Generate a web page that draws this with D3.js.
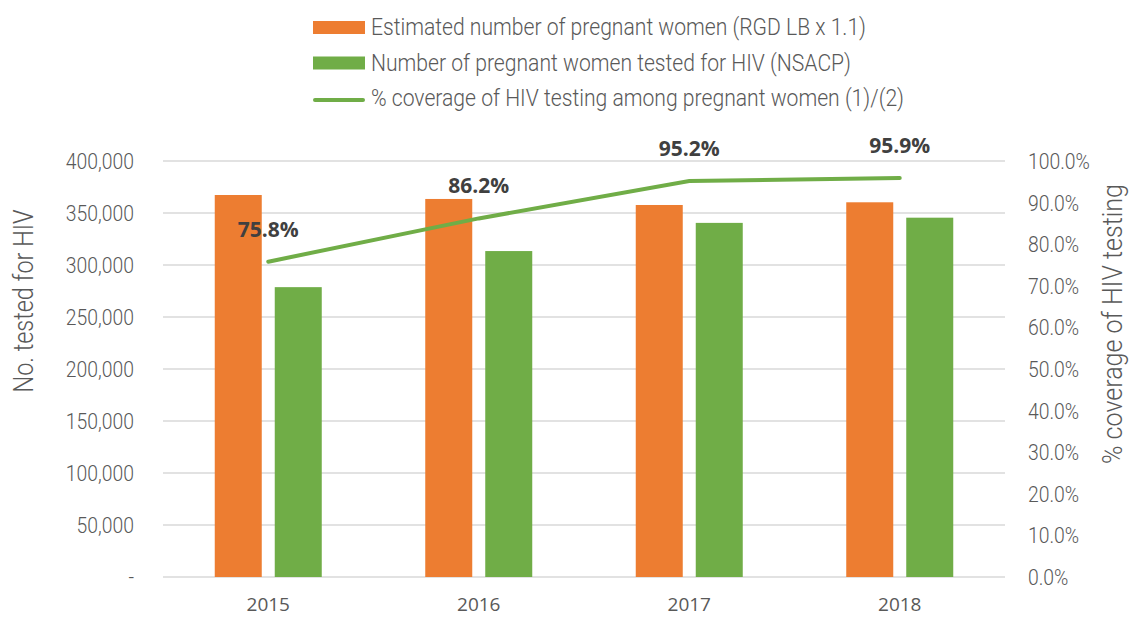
<!DOCTYPE html>
<html>
<head>
<meta charset="utf-8">
<script src="https://cdn.jsdelivr.net/npm/d3@7"></script>
<style>
  body { margin: 0; background: #fff; }
  svg { display: block; }
</style>
</head>
<body>
<svg id="chart" width="1132" height="617"></svg>
<script>
// data
const years = ['2015', '2016', '2017', '2018']
const estimated = [367300, 363500, 357700, 360300]
const tested = [278700, 313400, 340500, 345500]
const coverage = [0.758, 0.862, 0.952, 0.959]
const leftTicks = [0, 50000, 100000, 150000, 200000, 250000, 300000, 350000, 400000]
const rightTicks = [0, 0.1, 0.2, 0.3, 0.4, 0.5, 0.6, 0.7, 0.8, 0.9, 1.0]
const legendLabels = [
  'Estimated number of pregnant women (RGD LB x 1.1)',
  'Number of pregnant women tested for HIV (NSACP)',
  '% coverage of HIV testing among pregnant women (1)/(2)'
]

//Constants
const colorOrange = '#ED7D31'
const colorGreen = '#70AD47'
const colorGrid = '#D9D9D9'
const colorText = '#595959'
const squeeze = 0.88 // fake a condensed face, Roboto Condensed is not installed
const svg = d3.select('#chart')
const plot = { left: 163, right: 1005, top: 161, bottom: 577 }

const x = d3.scaleBand().domain(years).range([plot.left, plot.right])
const yLeft = d3.scaleLinear().domain([0, 400000]).range([plot.bottom, plot.top])
const yRight = d3.scaleLinear().domain([0, 1]).range([plot.bottom, plot.top])

// gridlines
svg.append('g')
  .selectAll('line')
  .data(leftTicks)
  .join('line')
  .attr('x1', plot.left)
  .attr('x2', plot.right)
  .attr('y1', d => yLeft(d))
  .attr('y2', d => yLeft(d))
  .attr('stroke', colorGrid)
  .attr('stroke-width', 1.5)

// left axis labels
const fmt = d3.format(',')
svg.append('g')
  .selectAll('text')
  .data(leftTicks)
  .join('text')
  .attr('transform', d => `translate(134, ${yLeft(d) + 8}) scale(${squeeze}, 1)`)
  .attr('text-anchor', 'end')
  .attr('font-family', 'Roboto')
  .attr('font-weight', 300)
  .attr('font-size', 22)
  .attr('fill', colorText)
  .text(d => d === 0 ? '-' : fmt(d))

// right axis labels
svg.append('g')
  .selectAll('text')
  .data(rightTicks)
  .join('text')
  .attr('transform', d => `translate(1028, ${yRight(d) + 8}) scale(${squeeze}, 1)`)
  .attr('font-family', 'Roboto')
  .attr('font-weight', 300)
  .attr('font-size', 22)
  .attr('fill', colorText)
  .text(d => d3.format('.1%')(d))

// axis titles
svg.append('text')
  .attr('transform', 'translate(33, 301) rotate(-90)')
  .attr('text-anchor', 'middle')
  .attr('font-family', 'Roboto')
  .attr('font-weight', 300)
  .attr('font-size', 28)
  .attr('fill', colorText)
  .attr('textLength', 183)
  .attr('lengthAdjust', 'spacingAndGlyphs')
  .text('No. tested for HIV')

svg.append('text')
  .attr('transform', 'translate(1122, 324) rotate(-90)')
  .attr('text-anchor', 'middle')
  .attr('font-family', 'Roboto')
  .attr('font-weight', 300)
  .attr('font-size', 28)
  .attr('fill', colorText)
  .attr('textLength', 280)
  .attr('lengthAdjust', 'spacingAndGlyphs')
  .text('% coverage of HIV testing')

// bars
const barW = 47
const gap = 13
const groups = svg.append('g')
  .selectAll('g')
  .data(years)
  .join('g')

groups.append('rect')
  .attr('x', d => x(d) + x.bandwidth() / 2 - gap / 2 - barW)
  .attr('y', (d, i) => yLeft(estimated[i]))
  .attr('width', barW)
  .attr('height', (d, i) => plot.bottom - yLeft(estimated[i]))
  .attr('fill', colorOrange)

groups.append('rect')
  .attr('x', d => x(d) + x.bandwidth() / 2 + gap / 2)
  .attr('y', (d, i) => yLeft(tested[i]))
  .attr('width', barW)
  .attr('height', (d, i) => plot.bottom - yLeft(tested[i]))
  .attr('fill', colorGreen)

// coverage line
const line = d3.line()
  .x((d, i) => x(years[i]) + x.bandwidth() / 2)
  .y(d => yRight(d))

svg.append('path')
  .datum(coverage)
  .attr('d', line)
  .attr('fill', 'none')
  .attr('stroke', colorGreen)
  .attr('stroke-width', 4)
  .attr('stroke-linecap', 'round')

// data labels
svg.append('g')
  .selectAll('text')
  .data(coverage)
  .join('text')
  .attr('x', (d, i) => x(years[i]) + x.bandwidth() / 2)
  .attr('y', d => yRight(d) - 25)
  .attr('text-anchor', 'middle')
  .attr('font-family', 'Open Sans')
  .attr('font-weight', 700)
  .attr('font-size', 21)
  .attr('fill', '#404040')
  .text(d => d3.format('.1%')(d))

// x labels
svg.append('g')
  .selectAll('text')
  .data(years)
  .join('text')
  .attr('x', d => x(d) + x.bandwidth() / 2)
  .attr('y', 611)
  .attr('text-anchor', 'middle')
  .attr('font-family', 'Open Sans')
  .attr('font-size', 19)
  .attr('fill', colorText)
  .text(d => d)

// legend
const legendWidths = [495, 480, 533]
const legend = svg.append('g')
  .selectAll('g')
  .data(legendLabels)
  .join('g')
  .attr('transform', (d, i) => `translate(313, ${35 + i * 35.5})`)

legend.filter((d, i) => i < 2)
  .append('rect')
  .attr('x', 0)
  .attr('y', -14)
  .attr('width', 52)
  .attr('height', 13)
  .attr('fill', (d, i) => i === 0 ? colorOrange : colorGreen)

legend.filter((d, i) => i === 2)
  .append('line')
  .attr('x1', 2)
  .attr('x2', 50)
  .attr('y1', -6)
  .attr('y2', -6)
  .attr('stroke', colorGreen)
  .attr('stroke-width', 4)
  .attr('stroke-linecap', 'round')

legend.append('text')
  .attr('x', 58)
  .attr('y', 0)
  .attr('font-family', 'Roboto')
  .attr('font-weight', 300)
  .attr('font-size', 24)
  .attr('fill', colorText)
  .attr('textLength', (d, i) => legendWidths[i])
  .attr('lengthAdjust', 'spacingAndGlyphs')
  .text(d => d)
</script>
</body>
</html>
